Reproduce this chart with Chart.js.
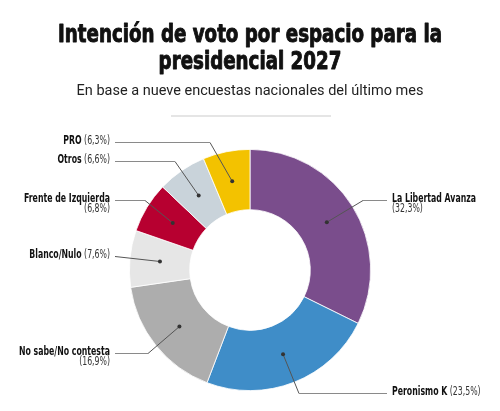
<!DOCTYPE html>
<html>
<head>
<meta charset="utf-8">
<script src="https://cdn.jsdelivr.net/npm/chart.js@4"></script>
<style>
  html, body { margin: 0; padding: 0; background: #fff; }
  canvas { display: block; }
</style>
</head>
<body>
<canvas id="chart" width="500" height="411"></canvas>
<script>
// data
const categories = ['La Libertad Avanza', 'Peronismo K', 'No sabe/No contesta', 'Blanco/Nulo', 'Frente de Izquierda', 'Otros', 'PRO'];
const values = [32.3, 23.5, 16.9, 7.6, 6.8, 6.6, 6.3];
const colors = ['#7a4d8c', '#3f8dc8', '#adadad', '#e6e6e6', '#b70030', '#c9d3da', '#f3c200'];

const titleLines = ['Intención de voto por espacio para la', 'presidencial 2027'];
const subtitle = 'En base a nueve encuestas nacionales del último mes';

// callout layout
const labelY = [200, 393, 353, 256, 200, 161, 142];
const elbowX = [363, 299, 148, 115, 145, 175, 210];
const twoLines = [true, false, true, false, true, false, false];

const CONDENSED = '"DejaVu Sans Condensed", "DejaVu Sans", sans-serif';
const fmt = v => '(' + v.toFixed(1).replace('.', ',') + '%)';

const headerPlugin = {
    id: 'header',
    afterDraw(chart) {
        const ctx = chart.ctx;
        ctx.save();
        ctx.fillStyle = '#111';
        ctx.strokeStyle = '#111';
        ctx.lineWidth = 0.9;
        ctx.lineJoin = 'round';
        ctx.textAlign = 'center';
        ctx.textBaseline = 'alphabetic';
        ctx.font = 'bold 24px ' + CONDENSED;
        const k = 384 / ctx.measureText(titleLines[0]).width;
        [42, 69].forEach((by, i) => {
            ctx.save();
            ctx.translate(250, by);
            ctx.scale(k, 1);
            ctx.fillText(titleLines[i], 0, 0);
            ctx.strokeText(titleLines[i], 0, 0);
            ctx.restore();
        });
        ctx.fillStyle = '#222';
        ctx.font = '14.5px Roboto, sans-serif';
        ctx.fillText(subtitle, 250, 95);
        ctx.fillStyle = '#cccccc';
        ctx.fillRect(171, 115.5, 160, 1);
        ctx.restore();
    }
};

const calloutPlugin = {
    id: 'callouts',
    afterDatasetsDraw(chart) {
        const ctx = chart.ctx;
        const arcs = chart.getDatasetMeta(0).data;
        const boldFont = 'bold 11.5px ' + CONDENSED;
        const regFont = '11.5px ' + CONDENSED;
        ctx.save();
        ctx.font = boldFont;
        const k = 86 / ctx.measureText('Frente de Izquierda').width;
        ctx.restore();

        arcs.forEach((arc, i) => {
            const mid = (arc.startAngle + arc.endAngle) / 2;
            const r = (arc.innerRadius + arc.outerRadius) / 2;
            const dx = arc.x + Math.cos(mid) * r;
            const dy = arc.y + Math.sin(mid) * r;
            const right = Math.cos(mid) > 0;
            const endX = right ? 387 : 115;
            const y = labelY[i];

            ctx.save();
            ctx.lineWidth = 1;
            ctx.strokeStyle = '#555';
            ctx.beginPath();
            ctx.moveTo(dx, dy);
            ctx.lineTo(elbowX[i], y + 0.5);
            ctx.stroke();
            ctx.strokeStyle = '#8a8a8a';
            ctx.beginPath();
            ctx.moveTo(elbowX[i], y + 0.5);
            ctx.lineTo(endX, y + 0.5);
            ctx.stroke();
            ctx.fillStyle = '#333';
            ctx.beginPath();
            ctx.arc(dx, dy, 2, 0, Math.PI * 2);
            ctx.fill();

            // text, squeezed horizontally to a condensed width
            const tx = right ? 392 : 110;
            ctx.translate(tx, y);
            ctx.scale(k, 1);
            ctx.textBaseline = 'middle';
            const name = categories[i];
            const pct = fmt(values[i]);
            if (twoLines[i]) {
                ctx.textAlign = right ? 'left' : 'right';
                ctx.font = boldFont;
                ctx.fillStyle = '#111';
                ctx.fillText(name, 0, -1);
                ctx.font = regFont;
                ctx.fillStyle = '#333';
                ctx.fillText(pct, 0, 9);
            } else {
                ctx.font = regFont;
                const pw = ctx.measureText(' ' + pct).width;
                ctx.font = boldFont;
                const nw = ctx.measureText(name).width;
                const x0 = right ? 0 : -nw - pw;
                ctx.textAlign = 'left';
                ctx.fillStyle = '#111';
                ctx.fillText(name, x0, -1);
                ctx.font = regFont;
                ctx.fillStyle = '#333';
                ctx.fillText(' ' + pct, x0 + nw, -1);
            }
            ctx.restore();
        });
    }
};

new Chart(document.getElementById('chart'), {
    type: 'doughnut',
    data: {
        labels: categories,
        datasets: [{
            data: values,
            backgroundColor: colors,
            borderColor: '#ffffff',
            borderWidth: 0.8
        }]
    },
    options: {
        responsive: false,
        animation: false,
        cutout: '50%',
        layout: { padding: { top: 149, bottom: 20, left: 100, right: 100 } },
        plugins: {
            legend: { display: false },
            tooltip: { enabled: false }
        }
    },
    plugins: [calloutPlugin, headerPlugin]
});
</script>
</body>
</html>
